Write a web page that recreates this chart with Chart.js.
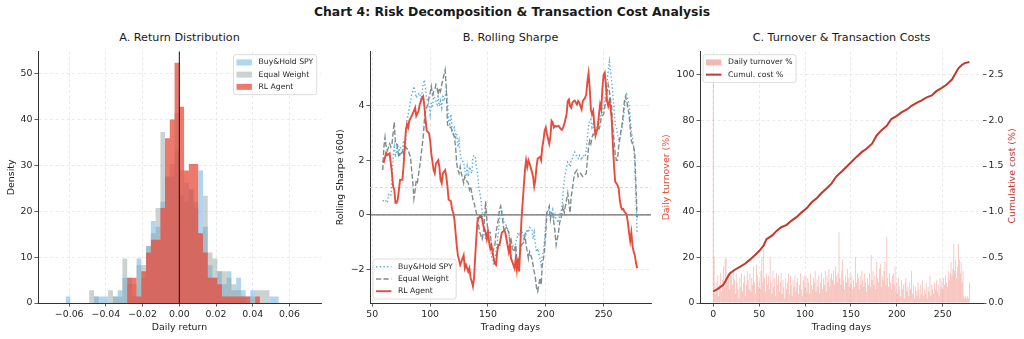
<!DOCTYPE html>
<html>
<head>
<meta charset="utf-8">
<script src="https://cdn.jsdelivr.net/npm/chart.js@4.4.1/dist/chart.umd.min.js"></script>
<style>
  body { margin: 0; background: #fff; font-family: "DejaVu Sans", sans-serif; }
  #wrap { position: relative; width: 1024px; height: 339px; overflow: hidden; background: #fff; }
  .panel { position: absolute; top: 44px; height: 295px; }
  .txt { position: absolute; white-space: nowrap; transform: translate(-50%, -50%); color: #1a1a1a; line-height: 1; }
</style>
</head>
<body>
<div id="wrap">
  <div class="txt" style="left:512px;top:12px;font-size:12.4px;font-weight:bold;">Chart 4: Risk Decomposition &amp; Transaction Cost Analysis</div>
  <div class="txt" style="left:179.5px;top:38px;font-size:11.2px;">A. Return Distribution</div>
  <div class="txt" style="left:510.5px;top:38px;font-size:11.2px;">B. Rolling Sharpe</div>
  <div class="txt" style="left:841.5px;top:38px;font-size:11.2px;">C. Turnover &amp; Transaction Costs</div>
  <div class="txt" style="left:1011.5px;top:175.5px;font-size:9.4px;color:#c0392b;transform:translate(-50%,-50%) rotate(-90deg);">Cumulative cost (%)</div>

  <div class="panel" style="left:0px;width:330px;"><canvas id="histChart"></canvas></div>
  <div class="panel" style="left:332px;width:330px;"><canvas id="sharpeChart"></canvas></div>
  <div class="panel" style="left:657px;width:367px;"><canvas id="costChart"></canvas></div>
</div>

<script>
// ---------- A: daily return histograms (density), shared bins ----------
const binEdges = [-0.0620, -0.0594, -0.0568, -0.0543, -0.0517, -0.0491, -0.0465, -0.0439, -0.0413, -0.0388,
  -0.0362, -0.0336, -0.0310, -0.0284, -0.0258, -0.0233, -0.0207, -0.0181, -0.0155, -0.0129,
  -0.0103, -0.0078, -0.0052, -0.0026, 0.0000, 0.0026, 0.0052, 0.0077, 0.0103, 0.0129,
  0.0155, 0.0181, 0.0207, 0.0232, 0.0258, 0.0284, 0.0310, 0.0336, 0.0362, 0.0387,
  0.0413, 0.0439, 0.0465, 0.0491, 0.0517, 0.0542];

const spyDensity = [1.4, 0, 0, 0, 0, 0, 1.4, 1.4, 1.4, 0, 1.4, 2.8, 5.5, 5.5, 1.4, 9.7, 5.5, 12.4, 17.9, 16.6,
  22.1, 27.6, 27.6, 33.1, 23.5, 26.2, 24.8, 20.7, 28.9, 16.6, 8.3, 5.5, 6.9, 4.1, 6.9, 2.8, 5.5, 2.8, 1.4, 2.8,
  0, 0, 0, 1.4, 1.4];
const eqwDensity = [0, 0, 0, 0, 0, 2.8, 1.4, 0, 0, 2.8, 1.4, 1.4, 9.7, 4.1, 4.1, 8.3, 8.3, 12.4, 15.2, 20.7,
  37.3, 27.6, 30.3, 41.4, 29.0, 22.1, 24.8, 22.1, 15.2, 23.4, 11.0, 9.7, 6.9, 6.9, 5.5, 4.1, 2.8, 1.4, 0, 1.4,
  2.8, 2.8, 2.8, 0, 0];
const rlDensity = [0, 0, 0, 0, 0, 0, 0, 0, 0, 0, 0, 0, 0, 5.5, 5.5, 1.4, 6.9, 11.0, 13.8, 13.8,
  20.7, 35.9, 40.0, 52.4, 42.8, 28.9, 30.3, 30.3, 15.2, 11.0, 5.5, 5.5, 4.1, 1.4, 1.4, 1.4, 1.4, 1.4, 1.4, 0,
  1.4, 0, 0, 0, 0];

// ---------- B: 60-day rolling Sharpe ----------
const spyDays = [59, 61, 63, 64, 66, 67, 68, 69, 70, 72, 73, 74, 76, 77, 78, 79, 80, 81, 83, 84,
  85, 86, 87, 88, 89, 91, 92, 93, 94, 95, 96, 97, 99, 100, 101, 102, 103, 104, 106, 107,
  108, 109, 110, 111, 112, 114, 115, 116, 117, 118, 119, 121, 122, 123, 124, 125, 126, 127, 129, 130,
  131, 132, 133, 134, 136, 137, 138, 139, 140, 141, 142, 144, 145, 146, 147, 148, 149, 150, 151, 152,
  153, 154, 155, 156, 157, 158, 159, 160, 161, 162, 163, 164, 165, 166, 168, 169, 170, 171, 173, 174,
  175, 176, 177, 178, 179, 181, 182, 183, 184, 185, 186, 188, 189, 190, 191, 192, 193, 195, 196, 197,
  198, 199, 200, 201, 203, 204, 205, 206, 207, 208, 209, 211, 212, 213, 214, 215, 216, 218, 219, 220,
  221, 222, 223, 224, 225, 227, 228, 229, 230, 231, 232, 234, 235, 236, 237, 238, 239, 240, 241, 242,
  244, 245, 246, 247, 248, 250, 251, 252, 253, 254, 255, 257, 258, 259, 260, 261, 262, 263, 265, 266,
  267, 268, 269, 270, 272, 273, 274, 275, 276, 277, 278, 279];
const spySharpe = [0.5, 0.56, 0.44, 0.74, 0.68, 1.28, 2.12, 2.48, 2.12, 2.6, 2.24, 2.48, 2.36, 2.72, 2.24, 2.84, 3.44, 3.68, 4.16, 4.4,
  4.52, 4.7, 4.52, 4.28, 4.4, 4.46, 4.22, 4.46, 4.76, 4.94, 4.64, 4.28, 4.04, 3.68, 4.1, 3.92, 4.4, 4.28, 4.04, 4.4,
  3.98, 4.16, 3.92, 4.4, 4.16, 4.52, 4.16, 3.44, 3.32, 3.68, 3.08, 3.2, 2.84, 2.96, 2.48, 2.72, 2.24, 2.0, 1.94, 1.64,
  1.4, 1.76, 1.4, 1.76, 1.52, 2.12, 2.18, 2.12, 1.76, 1.52, 1.04, 0.56, 0.08, -0.4, -0.64, -0.9, -0.7, -0.5, -0.88, -1.12,
  -1.5, -1.6, -1.83, -1.6, -1.35, -1.0, -0.64, -0.2, 0.08, 0.2, -0.04, -0.28, -0.3, -0.4, -0.64, -0.88, -1.0, -1.1, -1.23, -1.0,
  -0.88, -0.64, -0.76, -0.64, -0.52, -0.88, -0.64, -0.7, -0.52, -0.64, -0.46, -0.52, -0.88, -0.64, -1.1, -1.35, -1.23, -1.6, -1.83, -1.47,
  -1.35, -0.88, -0.28, 0.08, 0.2, -0.04, 0.08, 0.2, -0.1, 0.02, -0.16, -0.28, 0.02, 0.08, 0.32, 0.8, 1.28, 1.76, 1.94, 1.88,
  1.76, 2.0, 2.06, 2.24, 2.3, 2.12, 2.06, 2.18, 2.12, 2.0, 2.18, 2.12, 2.36, 2.84, 3.26, 3.44, 3.5, 3.2, 3.32, 3.08,
  3.2, 3.44, 3.32, 3.56, 3.68, 3.92, 4.16, 4.52, 4.88, 5.24, 5.6, 4.88, 4.4, 3.92, 3.32, 3.2, 2.96, 2.72, 2.96, 3.2,
  3.44, 3.92, 4.28, 4.4, 4.04, 3.56, 3.08, 2.84, 2.5, 1.8, 0.6, -0.7];

const eqwDays = [59, 60, 61, 62, 63, 65, 66, 67, 68, 69, 70, 71, 72, 73, 74, 75, 76, 77, 79, 80,
  81, 82, 83, 84, 85, 86, 87, 88, 89, 91, 92, 93, 94, 95, 96, 98, 99, 100, 101, 102,
  104, 105, 106, 107, 108, 109, 110, 111, 113, 114, 115, 116, 118, 119, 120, 121, 122, 123, 124, 125,
  126, 127, 129, 130, 131, 133, 134, 135, 136, 137, 138, 140, 141, 142, 143, 145, 146, 147, 148, 149,
  150, 152, 153, 154, 155, 156, 157, 158, 159, 160, 161, 162, 163, 164, 165, 166, 168, 169, 170, 171,
  173, 174, 175, 176, 177, 178, 179, 181, 182, 183, 184, 185, 186, 188, 189, 190, 191, 192, 193, 195,
  196, 197, 198, 199, 200, 201, 203, 204, 205, 206, 207, 208, 209, 211, 212, 213, 214, 215, 216, 218,
  219, 220, 221, 222, 223, 224, 225, 227, 228, 229, 230, 231, 232, 234, 235, 236, 237, 238, 239, 240,
  241, 242, 244, 245, 246, 247, 248, 250, 251, 252, 253, 254, 255, 257, 258, 259, 260, 261, 262, 263,
  265, 266, 267, 268, 269, 270, 272, 273, 274, 275, 276, 277, 278, 279];
const eqwSharpe = [1.64, 2.48, 2.84, 2.48, 2.36, 2.6, 2.48, 2.6, 3.0, 3.4, 2.6, 2.6, 2.36, 2.12, 2.24, 2.24, 2.36, 2.24, 2.48, 2.42,
  2.36, 2.24, 2.12, 1.64, 1.2, 0.6, 0.9, 1.28, 1.2, 1.76, 2.12, 2.48, 2.84, 3.44, 3.8, 4.04, 4.28, 4.46, 4.7, 4.4,
  4.58, 4.76, 4.64, 4.4, 4.64, 4.52, 4.76, 4.94, 5.3, 4.64, 3.32, 3.2, 3.2, 3.08, 2.96, 2.84, 2.48, 1.88, 1.64, 1.52,
  1.76, 1.52, 1.16, 1.4, 1.28, 1.16, 0.92, 1.04, 0.8, 0.56, 0.44, 0.08, -0.16, -0.4, -0.64, -0.88, -0.64, -0.16, 0.5, -0.16,
  -0.64, -0.64, -1.1, -1.35, -1.23, -1.1, -0.64, -0.4, -0.16, 0.2, 0.32, 0.08, -0.28, -0.64, -0.5, -0.45, -0.64, -1.0, -0.9, -1.23,
  -1.35, -1.1, -1.6, -1.83, -1.6, -1.35, -1.1, -1.0, -0.76, -1.1, -1.35, -1.6, -1.35, -1.6, -1.83, -2.07, -2.3, -2.67, -2.8, -2.3,
  -2.55, -1.83, -1.6, -1.23, -0.64, 0.08, 0.32, -0.16, 0.08, 0.0, -0.28, -0.64, -1.1, -0.64, -0.28, -0.16, 0.08, 0.32, 0.08, 0.56,
  0.8, 0.44, 0.08, 0.68, 0.92, 1.28, 1.52, 1.64, 1.4, 1.46, 1.52, 1.46, 1.4, 1.46, 1.52, 2.0, 2.48, 2.72, 2.6, 2.84,
  2.96, 2.9, 3.08, 3.2, 3.14, 3.26, 3.56, 3.68, 3.92, 4.16, 4.52, 4.76, 4.52, 3.92, 3.2, 2.72, 2.24, 2.0, 2.0, 2.48,
  3.08, 3.32, 3.68, 4.16, 4.34, 4.16, 3.68, 3.2, 2.72, 2.6, 2.48, 2.24, 1.0, -0.1];

const rlDays = [59, 60, 62, 63, 65, 66, 67, 68, 69, 70, 71, 72, 73, 74, 76, 77, 78, 79, 80, 81,
  82, 84, 86, 87, 88, 90, 91, 93, 94, 95, 96, 97, 99, 100, 101, 102, 103, 104, 105, 107,
  108, 109, 110, 111, 113, 114, 115, 116, 118, 119, 120, 121, 122, 123, 124, 126, 127, 128, 129, 130,
  131, 133, 134, 135, 136, 137, 138, 139, 140, 141, 143, 144, 145, 146, 148, 149, 150, 151, 152, 153,
  155, 156, 157, 158, 159, 160, 161, 162, 164, 165, 166, 168, 169, 170, 171, 173, 174, 175, 176, 177,
  178, 179, 181, 182, 183, 184, 185, 186, 188, 189, 190, 191, 192, 193, 195, 196, 197, 198, 199, 200,
  201, 203, 204, 205, 206, 207, 208, 209, 211, 212, 213, 214, 215, 216, 218, 219, 220, 221, 222, 223,
  224, 225, 227, 228, 229, 230, 231, 232, 234, 235, 236, 237, 238, 239, 240, 241, 242, 243, 245, 246,
  247, 248, 249, 250, 251, 252, 253, 254, 255, 256, 257, 258, 259, 260, 261, 262, 263, 264, 265, 266,
  267, 268, 269, 270, 271, 272, 273, 274, 275, 276, 277, 278, 279];
const rlSharpe = [1.98, 1.94, 2.27, 2.18, 2.25, 1.88, 1.52, 1.04, 0.92, 0.44, 0.44, 0.56, 0.92, 1.28, 1.28, 1.76, 2.48, 3.08, 3.32, 3.2,
  3.44, 3.62, 3.8, 3.92, 3.62, 3.8, 4.04, 4.28, 4.34, 3.98, 3.5, 3.08, 2.99, 2.73, 2.25, 1.95, 1.64, 1.52, 1.88, 2.0,
  1.76, 1.28, 1.16, 1.52, 1.64, 1.4, 1.04, 0.56, 0.5, 0.2, 0.08, -0.16, -0.64, -1.12, -1.47, -1.83, -1.71, -1.59, -1.47, -1.95,
  -1.83, -2.07, -1.95, -2.31, -2.43, -2.61, -2.3, -1.5, -0.8, -0.2, -0.04, -0.04, -0.16, -0.4, -0.64, -0.88, -0.64, -1.0, -1.23, -1.1,
  -1.6, -1.78, -1.83, -1.35, -1.1, -1.1, -0.88, -0.64, -0.58, -0.64, -0.88, -1.35, -1.1, -1.6, -1.71, -1.95, -1.6, -2.0, -1.6, -2.07,
  -1.1, -0.16, 1.04, 1.64, 2.0, 1.76, 2.0, 1.88, 1.58, 1.4, 1.04, 1.28, 1.76, 2.06, 2.12, 2.0, 2.48, 2.72, 3.08, 3.2,
  2.96, 2.6, 2.84, 3.44, 3.38, 3.2, 3.26, 3.23, 3.26, 3.2, 3.14, 3.11, 3.2, 3.32, 3.68, 4.16, 4.22, 3.98, 3.92, 4.1,
  4.16, 4.18, 4.04, 4.16, 4.1, 3.98, 3.86, 4.16, 4.28, 4.4, 4.88, 5.18, 4.64, 3.86, 3.68, 3.8, 3.32, 2.9, 3.2, 3.68,
  4.04, 3.86, 4.64, 5.12, 5.2, 4.76, 4.16, 3.98, 4.16, 3.92, 3.5, 2.6, 1.8, 1.22, 1.16, 1.1, 0.98, 0.56, 0.3, 0.2,
  0.22, 0.12, 0.08, 0.0, -0.28, -0.64, -0.95, -0.64, -1.12, -1.35, -1.47, -1.75, -1.95];

// ---------- C: daily turnover (%) by trading day, cumulative cost (%) ----------
const turnover = [
  105, 20, 4, 9, 6, 12, 3, 8, 13, 5,
  10, 16, 7, 19, 20, 9, 13, 11, 6, 14,
  12, 8, 15, 10, 4, 13, 9, 6, 2, 11,
  7, 13, 5, 9, 12, 3, 8, 14, 10, 6,
  13, 5, 11, 8, 16, 9, 4, 17, 12, 7,
  10, 6, 14, 20, 9, 24, 11, 5, 13, 8,
  12, 6, 20, 9, 4, 14, 7, 11, 3, 13,
  8, 12, 5, 9, 13, 4, 10, 7, 2, 11,
  6, 9, 13, 4, 12, 8, 3, 10, 7, 12,
  5, 9, 11, 4, 8, 13, 6, 3, 10, 12,
  7, 12, 5, 11, 9, 4, 13, 8, 6, 11,
  9, 14, 5, 10, 7, 12, 4, 9, 13, 6,
  11, 8, 14, 5, 12, 9, 15, 7, 11, 13,
  10, 14, 8, 16, 12, 9, 13, 31, 11, 8,
  14, 19, 10, 6, 12, 9, 15, 11, 7, 13,
  8, 12, 6, 10, 7, 20, 9, 13, 11, 6,
  12, 8, 14, 10, 7, 13, 9, 5, 11, 8,
  13, 7, 21, 10, 14, 8, 12, 6, 18, 11,
  9, 15, 17, 7, 12, 10, 14, 18, 8, 29,
  11, 7, 13, 9, 6, 12, 13, 8, 16, 5,
  9, 4, 11, 7, 3, 10, 6, 8, 2, 9,
  11, 5, 7, 3, 9, 6, 14, 4, 8, 2,
  7, 5, 3, 9, 6, 2, 8, 4, 10, 3,
  6, 4, 9, 2, 7, 5, 12, 3, 8, 6,
  4, 9, 6, 10, 5, 8, 3, 11, 7, 10,
  6, 11, 8, 12, 9, 7, 14, 10, 13, 18,
  12, 15, 26, 14, 19, 11, 16, 26, 19, 13,
  18, 9, 14, 3, 2, 3, 2, 3, 2, 9
];
const costDays = [0, 5, 11, 15, 18, 24, 29, 35, 40, 45, 50, 55, 58, 64, 69, 74, 80, 85, 91, 96,
  102, 107, 113, 118, 124, 129, 134, 140, 145, 151, 156, 162, 167, 173, 178, 183, 189, 194, 200, 205,
  211, 216, 222, 227, 232, 238, 243, 249, 254, 260, 263, 267, 271, 274, 279];
const cumCost = [0.126, 0.155, 0.198, 0.27, 0.324, 0.367, 0.396, 0.432, 0.475, 0.52, 0.569, 0.63, 0.70, 0.738, 0.79, 0.83, 0.856, 0.90, 0.943, 0.99,
  1.04, 1.10, 1.15, 1.205, 1.26, 1.31, 1.385, 1.44, 1.49, 1.55, 1.60, 1.655, 1.69, 1.745, 1.835, 1.89, 1.94, 2.015, 2.05, 2.087,
  2.12, 2.16, 2.195, 2.22, 2.25, 2.274, 2.32, 2.357, 2.39, 2.447, 2.50, 2.57, 2.61, 2.627, 2.64];

// ---------- styling ----------
const FONT = '"DejaVu Sans", sans-serif';
Chart.defaults.font.family = FONT;
Chart.defaults.color = '#262626';
Chart.defaults.animation = false;

const SPY_FILL = 'rgba(93,173,226,0.5)';
const EQW_FILL = 'rgba(149,165,166,0.5)';
const RL_FILL = 'rgba(231,76,60,0.75)';
const BAR_FILL = 'rgba(231,76,60,0.4)';

const minusSign = s => s.replace('-', '\u2212');

function xy(xs, ys) {
  return ys.map((y, i) => ({ x: xs[i], y: y }));
}

// stepped outline of a histogram, closed at zero on both sides
function histPoints(heights) {
  const pts = [{ x: binEdges[0], y: 0 }];
  heights.forEach((h, i) => pts.push({ x: binEdges[i], y: h }));
  pts.push({ x: binEdges[heights.length], y: 0 });
  return pts;
}

function axis(o) {
  return {
    type: 'linear',
    position: o.position,
    min: o.min,
    max: o.max,
    offset: false,
    grid: {
      display: true,
      offset: false,
      drawOnChartArea: o.gridOn !== false,
      color: '#e4e4e4',
      lineWidth: 0.8,
      tickColor: '#333',
      tickLength: 3.5,
      tickWidth: 0.8
    },
    border: { display: o.border !== false, color: '#333', width: 1, dash: [3, 2.5] },
    ticks: {
      stepSize: o.step,
      includeBounds: false,
      autoSkip: false,
      maxRotation: 0,
      padding: 2,
      color: '#262626',
      font: { size: 9.4 },
      callback: o.fmt
    },
    title: o.title ? {
      display: true,
      text: o.title,
      color: o.titleColor || '#1a1a1a',
      font: { size: 9.4 },
      padding: o.titlePad
    } : { display: false },
    afterFit: o.size ? (s => { if (s.isHorizontal()) s.height = o.size; else s.width = o.size; }) : undefined
  };
}

function boxLegend(items, place) {
  return {
    id: 'boxLegend',
    afterDraw(chart) {
      const { ctx, chartArea: a } = chart;
      ctx.save();
      ctx.font = '7.7px ' + FONT;
      const textW = Math.max(...items.map(it => ctx.measureText(it.label).width));
      const w = 3 + 15.4 + 6.6 + textW + 3.5;
      const h = 15.6 + (items.length - 1) * 12.2;
      const x = place === 'upper right' ? a.right - 4.3 - w : a.left + 3;
      const y = place === 'lower left' ? a.bottom - 4 - h : a.top + 3;
      ctx.beginPath();
      ctx.roundRect(x, y, w, h, 2.5);
      ctx.fillStyle = 'rgba(255,255,255,0.8)';
      ctx.fill();
      ctx.strokeStyle = '#d4d4d4';
      ctx.lineWidth = 0.8;
      ctx.stroke();
      items.forEach((it, i) => {
        const cy = y + 7.8 + i * 12.2;
        const sx = x + 3;
        if (it.kind === 'patch') {
          ctx.fillStyle = it.color;
          ctx.fillRect(sx, cy - 3, 15.4, 6);
        } else {
          ctx.beginPath();
          ctx.setLineDash(it.dash || []);
          ctx.strokeStyle = it.color;
          ctx.lineWidth = it.width;
          ctx.moveTo(sx, cy);
          ctx.lineTo(sx + 15.4, cy);
          ctx.stroke();
          ctx.setLineDash([]);
        }
        ctx.fillStyle = '#262626';
        ctx.textBaseline = 'middle';
        ctx.fillText(it.label, sx + 22, cy);
      });
      ctx.restore();
    }
  };
}

// ---------- A ----------
new Chart(document.getElementById('histChart'), {
  type: 'line',
  data: {
    datasets: [
      { label: 'Buy&Hold SPY', data: histPoints(spyDensity), order: 2, backgroundColor: SPY_FILL },
      { label: 'Equal Weight', data: histPoints(eqwDensity), order: 1, backgroundColor: EQW_FILL },
      { label: 'RL Agent', data: histPoints(rlDensity), order: 0, backgroundColor: RL_FILL }
    ].map(d => Object.assign(d, {
      stepped: 'before', fill: 'origin', borderWidth: 0, borderColor: 'rgba(0,0,0,0)', pointRadius: 0
    }))
  },
  options: {
    responsive: true,
    maintainAspectRatio: false,
    layout: { padding: { top: 4, right: 9, left: 0, bottom: 0 } },
    plugins: { legend: { display: false }, tooltip: { enabled: false } },
    scales: {
      x: axis({ position: 'bottom', min: -0.077, max: 0.0772, step: 0.02, size: 36,
        title: 'Daily return', titlePad: { top: 0, bottom: 6 },
        fmt: v => Math.abs(v) < 1e-9 ? '0.00' : minusSign(v.toFixed(2)) }),
      y: axis({ position: 'left', min: 0, max: 54.8, step: 10, size: 38,
        title: 'Density', titlePad: { top: 6, bottom: 0 },
        fmt: v => String(Math.round(v)) })
    }
  },
  plugins: [
    {
      id: 'zeroLine',
      afterDatasetsDraw(chart) {
        const { ctx, chartArea: a, scales } = chart;
        const px = scales.x.getPixelForValue(0);
        ctx.save();
        ctx.strokeStyle = '#111';
        ctx.lineWidth = 1;
        ctx.beginPath();
        ctx.moveTo(px, a.top);
        ctx.lineTo(px, a.bottom);
        ctx.stroke();
        ctx.restore();
      }
    },
    boxLegend([
      { kind: 'patch', color: SPY_FILL, label: 'Buy&Hold SPY' },
      { kind: 'patch', color: EQW_FILL, label: 'Equal Weight' },
      { kind: 'patch', color: RL_FILL, label: 'RL Agent' }
    ], 'upper right')
  ]
});

// ---------- B ----------
new Chart(document.getElementById('sharpeChart'), {
  type: 'line',
  data: {
    datasets: [
      { label: 'Buy&Hold SPY', data: xy(spyDays, spySharpe), order: 2,
        borderColor: '#5dade2', borderWidth: 1.4, borderDash: [1.4, 2.3] },
      { label: 'Equal Weight', data: xy(eqwDays, eqwSharpe), order: 1,
        borderColor: '#7f8c8d', borderWidth: 1.4, borderDash: [5.2, 2.3] },
      { label: 'RL Agent', data: xy(rlDays, rlSharpe), order: 0,
        borderColor: '#e74c3c', borderWidth: 1.9 }
    ].map(d => Object.assign(d, { pointRadius: 0, tension: 0, fill: false }))
  },
  options: {
    responsive: true,
    maintainAspectRatio: false,
    layout: { padding: { top: 4, right: 11, left: 0, bottom: 0 } },
    plugins: { legend: { display: false }, tooltip: { enabled: false } },
    scales: {
      x: axis({ position: 'bottom', min: 48, max: 291, step: 50, size: 36,
        title: 'Trading days', titlePad: { top: 0, bottom: 6 },
        fmt: v => String(Math.round(v)) }),
      y: axis({ position: 'left', min: -3.22, max: 5.97, step: 2, size: 38,
        title: 'Rolling Sharpe (60d)', titlePad: { top: 3.4, bottom: 0 },
        fmt: v => minusSign(String(Math.round(v))) })
    }
  },
  plugins: [
    {
      id: 'refLines',
      beforeDatasetsDraw(chart) {
        const { ctx, chartArea: a, scales } = chart;
        ctx.save();
        // Sharpe = 1 guide
        let py = scales.y.getPixelForValue(1);
        ctx.strokeStyle = '#d2d2d2';
        ctx.lineWidth = 0.8;
        ctx.setLineDash([3, 2]);
        ctx.beginPath();
        ctx.moveTo(a.left, py);
        ctx.lineTo(a.right, py);
        ctx.stroke();
        // zero line
        py = scales.y.getPixelForValue(0);
        ctx.setLineDash([]);
        ctx.strokeStyle = '#333';
        ctx.lineWidth = 0.9;
        ctx.beginPath();
        ctx.moveTo(a.left, py);
        ctx.lineTo(a.right, py);
        ctx.stroke();
        ctx.restore();
      }
    },
    boxLegend([
      { kind: 'line', color: '#5dade2', width: 1.4, dash: [1.4, 2.3], label: 'Buy&Hold SPY' },
      { kind: 'line', color: '#7f8c8d', width: 1.4, dash: [5.2, 2.3], label: 'Equal Weight' },
      { kind: 'line', color: '#e74c3c', width: 1.9, label: 'RL Agent' }
    ], 'lower left')
  ]
});

// ---------- C ----------
new Chart(document.getElementById('costChart'), {
  data: {
    datasets: [
      { type: 'line', label: 'Cumul. cost %', data: xy(costDays, cumCost), yAxisID: 'y2', order: 0,
        borderColor: '#c0392b', borderWidth: 2, pointRadius: 0, tension: 0, fill: false },
      { type: 'bar', label: 'Daily turnover %', data: turnover.map((v, i) => ({ x: i, y: v })), yAxisID: 'y', order: 1,
        backgroundColor: BAR_FILL, borderWidth: 0, categoryPercentage: 1, barPercentage: 0.8 }
    ]
  },
  options: {
    responsive: true,
    maintainAspectRatio: false,
    layout: { padding: { top: 4, right: 0, left: 0, bottom: 0 } },
    plugins: { legend: { display: false }, tooltip: { enabled: false } },
    scales: {
      x: axis({ position: 'bottom', min: -14.4, max: 293.8, step: 50, size: 36,
        title: 'Trading days', titlePad: { top: 0, bottom: 6 },
        fmt: v => String(Math.round(v)) }),
      y: axis({ position: 'left', min: 0, max: 110.1, step: 20, size: 43,
        title: 'Daily turnover (%)', titleColor: '#e74c3c', titlePad: { top: 4, bottom: 0 },
        fmt: v => String(Math.round(v)) }),
      y2: axis({ position: 'right', min: 0, max: 2.753, step: 0.5, size: 41,
        gridOn: false, border: false,
        fmt: v => v.toFixed(1) })
    }
  },
  plugins: [
    boxLegend([
      { kind: 'patch', color: BAR_FILL, label: 'Daily turnover %' },
      { kind: 'line', color: '#c0392b', width: 2, label: 'Cumul. cost %' }
    ], 'upper left')
  ]
});
</script>
</body>
</html>
